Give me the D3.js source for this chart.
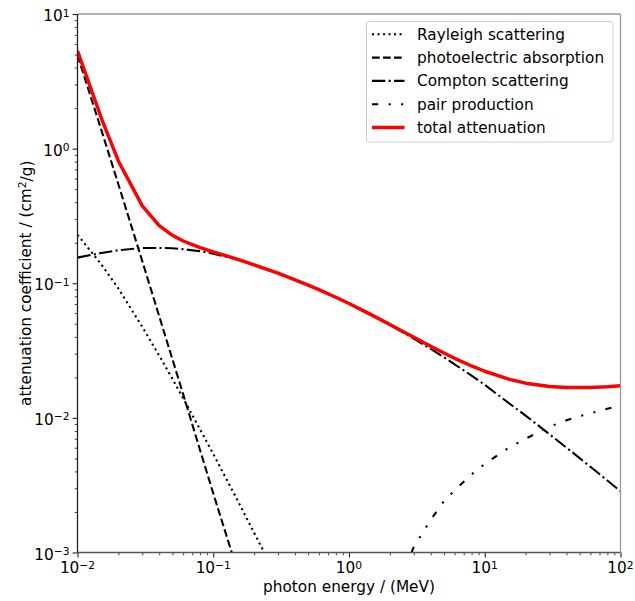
<!DOCTYPE html>
<html>
<head>
<meta charset="utf-8">
<script src="https://cdn.jsdelivr.net/npm/d3@7"></script>
<style>
  html, body { margin: 0; padding: 0; background: #fff; }
  svg { display: block; font-family: "DejaVu Sans", sans-serif; }
</style>
</head>
<body>
<svg id="chart" width="635" height="601"></svg>
<script>
// Mass attenuation coefficients of water (cm^2/g) versus photon energy (MeV)
const energy = [0.01, 0.015, 0.02, 0.03, 0.04, 0.05, 0.06, 0.08, 0.1, 0.15, 0.2, 0.3, 0.4, 0.5,
  0.6, 0.8, 1, 1.25, 1.5, 2, 3, 4, 5, 6, 8, 10, 15, 20, 30, 40, 50, 60, 80, 100];

const rayleigh = [2.29e-1, 1.38e-1, 9.15e-2, 4.75e-2, 2.90e-2, 1.95e-2, 1.40e-2, 8.20e-3, 5.40e-3,
  2.47e-3, 1.40e-3, 6.30e-4, 3.55e-4, 2.28e-4, 1.58e-4, 8.90e-5, 5.70e-5, 3.65e-5, 2.53e-5,
  1.43e-5, 6.33e-6, 3.56e-6, 2.28e-6, 1.58e-6, 8.90e-7, 5.70e-7, 2.53e-7, 1.43e-7, 6.33e-8,
  3.56e-8, 2.28e-8, 1.58e-8, 8.90e-9, 5.70e-9];

const photoelectric = [4.94, 1.37, 5.44e-1, 1.46e-1, 5.68e-2, 2.73e-2, 1.50e-2, 5.75e-3, 2.75e-3,
  7.43e-4, 2.97e-4, 8.48e-5, 3.65e-5, 1.97e-5, 1.22e-5, 6.05e-6, 3.68e-6, 2.35e-6, 1.70e-6,
  1.07e-6, 6.0e-7, 4.1e-7, 3.1e-7, 2.5e-7, 1.8e-7, 1.4e-7, 8.9e-8, 6.5e-8, 4.2e-8, 3.1e-8,
  2.4e-8, 2.0e-8, 1.5e-8, 1.2e-8];

const compton = [1.55e-1, 1.68e-1, 1.76e-1, 1.83e-1, 1.83e-1, 1.82e-1, 1.79e-1, 1.73e-1, 1.66e-1,
  1.50e-1, 1.37e-1, 1.18e-1, 1.06e-1, 9.65e-2, 8.93e-2, 7.87e-2, 7.07e-2, 6.31e-2, 5.74e-2,
  4.92e-2, 3.88e-2, 3.25e-2, 2.82e-2, 2.50e-2, 2.06e-2, 1.76e-2, 1.29e-2, 1.04e-2, 7.56e-3,
  6.01e-3, 5.02e-3, 4.33e-3, 3.43e-3, 2.85e-3];

const pair = [null, null, null, null, null, null, null, null, null, null, null, null, null, null,
  null, null, null, null, 3.1e-5, 3.9e-4, 1.10e-3, 1.75e-3, 2.40e-3, 2.90e-3, 3.80e-3, 4.55e-3,
  6.00e-3, 7.00e-3, 8.60e-3, 9.60e-3, 1.03e-2, 1.08e-2, 1.17e-2, 1.24e-2];

const total = [5.33, 1.68, 8.10e-1, 3.76e-1, 2.68e-1, 2.27e-1, 2.06e-1, 1.84e-1, 1.71e-1,
  1.51e-1, 1.37e-1, 1.19e-1, 1.06e-1, 9.69e-2, 8.96e-2, 7.87e-2, 7.07e-2, 6.32e-2, 5.75e-2,
  4.94e-2, 3.97e-2, 3.40e-2, 3.03e-2, 2.77e-2, 2.43e-2, 2.22e-2, 1.94e-2, 1.81e-2, 1.71e-2,
  1.68e-2, 1.68e-2, 1.68e-2, 1.70e-2, 1.73e-2];

const seriesNames = ["Rayleigh scattering", "photoelectric absorption", "Compton scattering",
  "pair production", "total attenuation"];

const xTickExponents = [-2, -1, 0, 1, 2];
const yTickExponents = [-3, -2, -1, 0, 1];

const xTitle = "photon energy / (MeV)";
const yTitleMain = "attenuation coefficient / (cm";
const yTitleSup = "2";
const yTitleEnd = "/g)";

// ---- layout ----
const plotLeft = 77.5, plotRight = 620.5, plotTop = 14, plotBottom = 552.5;
const fontSize = 15.3;
const svg = d3.select("#chart");

const x = d3.scaleLog().domain([1e-2, 1e2]).range([plotLeft, plotRight]);
const y = d3.scaleLog().domain([1e-3, 1e1]).range([plotBottom, plotTop]);

svg.append("defs").append("clipPath").attr("id", "plot-clip")
  .append("rect").attr("x", plotLeft).attr("y", plotTop)
  .attr("width", plotRight - plotLeft).attr("height", plotBottom - plotTop);

// minor tick positions (2..9 times each decade)
function minors(lo, hi) {
  const out = [];
  for (let e = lo; e < hi; e++) for (let m = 2; m <= 9; m++) out.push(m * Math.pow(10, e));
  return out;
}
const xMajor = xTickExponents.map(e => Math.pow(10, e));
const yMajor = yTickExponents.map(e => Math.pow(10, e));

function styleAxis(g, width) {
  g.select(".domain").remove();
  g.selectAll(".tick line").attr("stroke", "#222").attr("stroke-width", width);
}

svg.append("g").attr("transform", `translate(0,${plotBottom})`)
  .call(d3.axisBottom(x).tickValues(minors(-2, 2)).tickSize(2.8).tickFormat(""))
  .call(g => styleAxis(g, 0.85));
svg.append("g").attr("transform", `translate(0,${plotBottom})`)
  .call(d3.axisBottom(x).tickValues(xMajor).tickSize(4.9).tickFormat(""))
  .call(g => styleAxis(g, 1.1));
svg.append("g").attr("transform", `translate(${plotLeft},0)`)
  .call(d3.axisLeft(y).tickValues(minors(-3, 1)).tickSize(2.8).tickFormat(""))
  .call(g => styleAxis(g, 0.85));
svg.append("g").attr("transform", `translate(${plotLeft},0)`)
  .call(d3.axisLeft(y).tickValues(yMajor).tickSize(4.9).tickFormat(""))
  .call(g => styleAxis(g, 1.1));

// power-of-ten tick labels
function powerLabel(sel, exp) {
  sel.append("tspan").text("10");
  sel.append("tspan").attr("dy", "-0.42em").attr("font-size", (fontSize * 0.7) + "px")
    .text(exp < 0 ? "\u2212" + Math.abs(exp) : String(exp));
}
xTickExponents.forEach(e => {
  svg.append("text").attr("x", x(Math.pow(10, e))).attr("y", plotBottom + 20.5)
    .attr("text-anchor", "middle").attr("font-size", fontSize + "px").attr("fill", "#000")
    .call(s => powerLabel(s, e));
});
yTickExponents.forEach(e => {
  svg.append("text").attr("x", plotLeft - 8).attr("y", y(Math.pow(10, e)) + 7)
    .attr("text-anchor", "end").attr("font-size", fontSize + "px").attr("fill", "#000")
    .call(s => powerLabel(s, e));
});

// axis titles
svg.append("text").attr("x", (plotLeft + plotRight) / 2).attr("y", 592)
  .attr("text-anchor", "middle").attr("font-size", fontSize + "px").text(xTitle);
const yt = svg.append("text")
  .attr("transform", `translate(30.5,${(plotTop + plotBottom) / 2}) rotate(-90)`)
  .attr("text-anchor", "middle").attr("font-size", fontSize + "px");
yt.append("tspan").text(yTitleMain);
yt.append("tspan").attr("dy", "-0.42em").attr("font-size", (fontSize * 0.7) + "px").text(yTitleSup);
yt.append("tspan").attr("dy", "0.42em").text(yTitleEnd);

// ---- series ----
const lw = 2.08;
const styles = [
  { values: rayleigh, color: "#000", width: lw, dash: "2.08,3.43" },
  { values: photoelectric, color: "#000", width: lw, dash: "7.7,3.33" },
  { values: compton, color: "#000", width: lw, dash: "13.3,3.33,2.08,3.33" },
  { values: pair, color: "#000", width: lw, dash: "6.25,10.4,2.08,10.4,2.08,10.4" },
  { values: total, color: "#ff0000", width: 3.47, dash: null }
];

const line = d3.line()
  .defined(d => d[1] != null && d[1] > 0)
  .x(d => x(d[0])).y(d => y(d[1]));

const plot = svg.append("g").attr("clip-path", "url(#plot-clip)");
styles.forEach(s => {
  plot.append("path")
    .datum(energy.map((e, i) => [e, s.values[i]]))
    .attr("fill", "none").attr("stroke", s.color).attr("stroke-width", s.width)
    .attr("stroke-dasharray", s.dash).attr("stroke-linejoin", "round")
    .attr("d", line);
});

// spines
svg.append("line").attr("x1", plotLeft).attr("x2", plotRight).attr("y1", plotTop).attr("y2", plotTop)
  .attr("stroke", "#999").attr("stroke-width", 1.3);
svg.append("line").attr("x1", plotRight).attr("x2", plotRight).attr("y1", plotTop).attr("y2", plotBottom)
  .attr("stroke", "#999").attr("stroke-width", 1.3);
svg.append("line").attr("x1", plotLeft).attr("x2", plotRight).attr("y1", plotBottom).attr("y2", plotBottom)
  .attr("stroke", "#555").attr("stroke-width", 1.3);
svg.append("line").attr("x1", plotLeft).attr("x2", plotLeft).attr("y1", plotTop).attr("y2", plotBottom)
  .attr("stroke", "#222").attr("stroke-width", 1.3);

// ---- legend ----
const legend = svg.append("g");
legend.append("rect").attr("x", 366.5).attr("y", 21.5).attr("width", 246.5).attr("height", 120.5)
  .attr("rx", 3).attr("fill", "#fff").attr("fill-opacity", 0.8)
  .attr("stroke", "#ccc").attr("stroke-width", 1);
seriesNames.forEach((name, i) => {
  const cy = 34.3 + i * 23.3;
  const s = styles[i];
  legend.append("line").attr("x1", 372).attr("x2", 404.5).attr("y1", cy).attr("y2", cy)
    .attr("stroke", s.color).attr("stroke-width", s.width).attr("stroke-dasharray", s.dash);
  legend.append("text").attr("x", 417).attr("y", cy + 5.5)
    .attr("font-size", fontSize + "px").text(name);
});
</script>
</body>
</html>
